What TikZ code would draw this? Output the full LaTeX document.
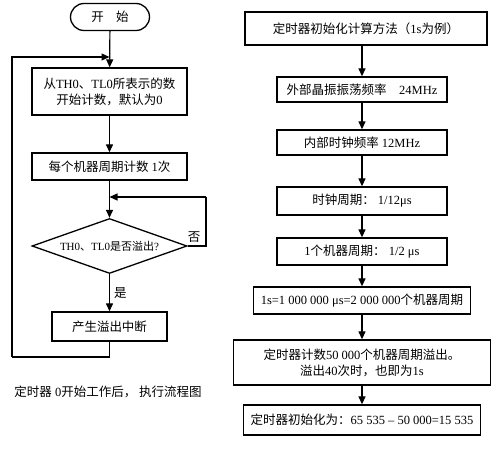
\documentclass[tikz,border=0pt]{standalone}
\usepackage{fontspec}
\setmainfont{Liberation Serif}
\newfontfamily\cjk{Noto Sans CJK SC}
\usetikzlibrary{shapes.geometric,shapes.misc,arrows.meta}
\newcommand\zh[1]{{\cjk #1}}
\tikzset{
  box/.style={draw, line width=1.3pt, inner sep=0pt, align=center, font=\fontsize{12.5}{16}\selectfont},
  arr/.style={line width=1.2pt, -{Triangle[length=8pt,width=7pt]}},
  ln/.style={line width=1.2pt},
  lbl/.style={font=\fontsize{12.5}{14}\selectfont, inner sep=0pt}
}
\begin{document}
\begin{tikzpicture}[x=1pt,y=-1pt]
\useasboundingbox (0,0) rectangle (491,454);
% left column
\node[box, rounded rectangle, minimum width=79pt, minimum height=27pt] (st) at (110,17) {\zh{开\quad 始}};
\node[box, minimum width=155pt, minimum height=47pt] (b1) at (109.5,91.5) {\zh{从}TH0\zh{、}TL0\zh{所表示的数}\\\zh{开始计数，默认为}0};
\node[box, minimum width=155pt, minimum height=27pt] (b2) at (109.5,166.5) {\zh{每个机器周期计数} 1\zh{次}};
\node[box, diamond, aspect=2.8, minimum width=155pt, minimum height=55pt, font=\fontsize{11}{13}\selectfont] (d) at (109.5,246) {TH0\zh{、}TL0\zh{是否溢出}?};
\node[box, minimum width=115pt, minimum height=29pt] (b3) at (109.5,326.5) {\zh{产生溢出中断}};
\node[lbl] (cap) at (108,392) {\zh{定时器} 0\zh{开始工作后，\ 执行流程图}};
\coordinate (j1) at (109.5,57);
\coordinate (lb) at (12,357);
\coordinate (j2) at (109.5,197);
\coordinate (rt) at (206,197);
\draw[arr] (st) -- (b1);
\draw[arr] (b1) -- (b2);
\draw[arr] (b2) -- (d);
\draw[arr] (d) -- node[lbl, right=4pt, pos=0.5] (yes) {\zh{是}} (b3);
\draw[ln] (b3.south) |- (lb);
\draw[arr] (lb) |- (j1);
\draw[ln] (d.east) -| (rt);
\draw[arr] (rt) -- (j2);
\node[lbl] (no) at (194,237) {\zh{否}};
% right column
\node[box, minimum width=242pt, minimum height=33pt] (r1) at (366,28.5) {\zh{定时器初始化计算方法（}1s\zh{为例）}};
\node[box, minimum width=170pt, minimum height=25pt] (r2) at (362,89.5) {\zh{外部晶振振荡频率}\quad 24MHz};
\node[box, minimum width=170pt, minimum height=25pt] (r3) at (362,142.5) {\zh{内部时钟频率} 12MHz};
\node[box, minimum width=170pt, minimum height=28pt] (r4) at (362,201) {\zh{时钟周期：} 1/12μs};
\node[box, minimum width=170pt, minimum height=27pt] (r5) at (362,251.5) {1\zh{个机器周期：} 1/2 μs};
\node[box, minimum width=217pt, minimum height=27pt] (r6) at (362,300.5) {1s=1 000 000 μs=2 000 000\zh{个机器周期}};
\node[box, minimum width=257pt, minimum height=45pt] (r7) at (362,362.5) {\zh{定时器计数}50 000\zh{个机器周期溢出。}\\\zh{溢出}40\zh{次时，也即为}1s};
\node[box, minimum width=237pt, minimum height=30pt] (r8) at (362,420) {\zh{定时器初始化为：}65 535 – 50 000=15 535};
\draw[arr] (r1.south -| r2.north) -- (r2.north);
\draw[arr] (r2) -- (r3);
\draw[arr] (r3) -- (r4);
\draw[arr] (r4) -- (r5);
\draw[arr] (r5) -- (r6);
\draw[arr] (r6) -- (r7);
\draw[arr] (r7) -- (r8);
\end{tikzpicture}
\end{document}
